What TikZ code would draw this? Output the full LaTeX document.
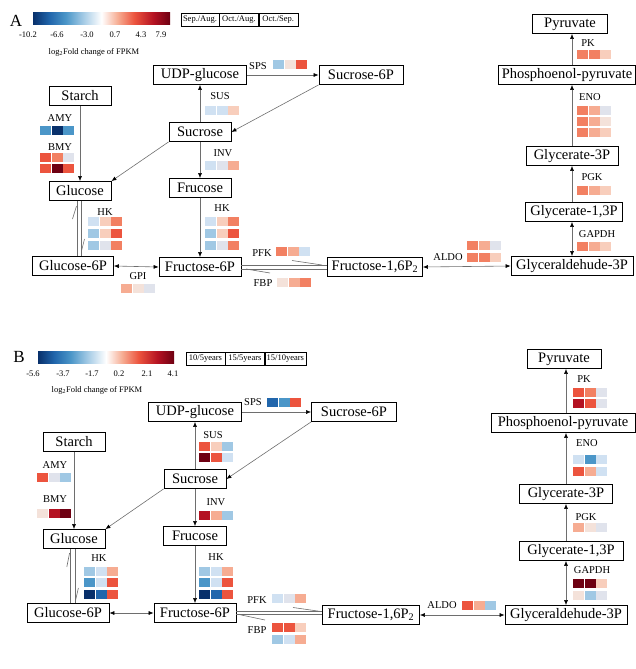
\documentclass[tikz,border=0pt]{standalone}
\usepackage{fontspec}
\setmainfont{Liberation Serif}
\usetikzlibrary{arrows.meta}
\usetikzlibrary{positioning}
\definecolor{hmNavy}{RGB}{8,48,107}
\definecolor{hmDblue}{RGB}{33,102,172}
\definecolor{hmMblue}{RGB}{75,150,200}
\definecolor{hmLblue}{RGB}{160,200,228}
\definecolor{hmPblue}{RGB}{208,225,242}
\definecolor{hmGray}{RGB}{224,227,236}
\definecolor{hmPeachL}{RGB}{244,226,218}
\definecolor{hmPeach}{RGB}{248,206,188}
\definecolor{hmLsalm}{RGB}{246,172,146}
\definecolor{hmSalm}{RGB}{242,128,98}
\definecolor{hmRed}{RGB}{236,84,62}
\definecolor{hmCrim}{RGB}{180,18,34}
\definecolor{hmMaroon}{RGB}{110,0,18}
\definecolor{lnGray}{RGB}{110,110,110}
\pgfdeclarehorizontalshading{rdbu}{100bp}{color(0bp)=(hmNavy); color(25bp)=(hmNavy);
  color(31bp)=(hmDblue); color(37bp)=(hmMblue); color(43bp)=(hmLblue); color(50bp)=(white);
  color(56bp)=(hmLsalm); color(62bp)=(hmRed); color(69bp)=(hmCrim); color(75bp)=(hmMaroon);
  color(100bp)=(hmMaroon)}
% one row of a heat map: x, y, three colours
\newcommand{\hmrow}[5]{%
  \fill[#3] (#1,#2) rectangle +(\cw-0.6,\ch);
  \fill[#4] (#1+\cw,#2) rectangle +(\cw-0.6,\ch);
  \fill[#5] (#1+2*\cw,#2) rectangle +(\cw-0.6,\ch);
}
\tikzset{
  met/.style={draw, line width=0.8pt, minimum height=19, inner xsep=3pt, inner ysep=1pt,
    font=\fontsize{14.5}{16}\selectfont},
  enz/.style={inner sep=0pt, font=\fontsize{10.5}{12}\selectfont},
  arr/.style={draw=lnGray, line width=0.6pt, -{Latex[length=5pt,width=4pt,color=black]}},
  arr2/.style={arr, {Latex[length=5pt,width=4pt,color=black]}-{Latex[length=5pt,width=4pt,color=black]}},
  harp/.style={draw=lnGray, line width=0.6pt},
  hdr/.style={draw, line width=0.4pt, inner sep=1pt, minimum height=13,
    font=\fontsize{8.5}{10}\selectfont},
  tklab/.style={inner sep=0pt, font=\fontsize{8.5}{10}\selectfont},
  panel/.style={inner sep=0pt, font=\fontsize{17}{19}\selectfont}
}
\begin{document}
\begin{tikzpicture}[x=1pt,y=-1pt]
\useasboundingbox (0,0) rectangle (636,669);
\def\cw{11.6}
\def\ch{9.2}

%%%%%%%%%%%% panel A %%%%%%%%%%%%
%legend
\node[panel] (labA) at (16,21) {A};
\shade[shading=rdbu] (33,13) rectangle (170,25);
\foreach \val/\x [count=\i] in {-10.2/28,-6.6/57,-3.0/87,0.7/115,4.3/141,7.9/161}
  \node[tklab] (tkA\i) at (\x,35) {\val};
\node[tklab] (legA) at (94,52) {log\textsubscript{2}Fold change of FPKM};
\node[hdr, minimum width=38] (hdA1) at (200,19.5) {Sep./Aug.};
\node[hdr, minimum width=39, right=0pt of hdA1] (hdA2) {Oct./Aug.};
\node[hdr, minimum width=39, right=0pt of hdA2] (hdA3) {Oct./Sep.};

%metabolites
\node[met, minimum width=93] (udpA) at (200,75) {UDP-glucose};
\node[met, minimum width=84] (suc6pA) at (361,75) {Sucrose-6P};
\node[met, minimum width=62] (starchA) at (80,96) {Starch};
\node[met, minimum width=62] (sucA) at (200,132) {Sucrose};
\node[met, minimum width=62] (glcA) at (80,191) {Glucose};
\node[met, minimum width=62] (frucA) at (200,188) {Frucose};
\node[met, minimum width=81] (g6pA) at (73,266) {Glucose-6P};
\node[met, minimum width=82] (f6pA) at (200,267) {Fructose-6P};
\node[met, minimum width=95] (f16pA) at (375,267) {Fructose-1,6P\textsubscript{2}};
\node[met, minimum width=122] (ga3pA) at (572,266) {Glyceraldehude-3P};
\node[met, minimum width=97] (g13pA) at (574,212) {Glycerate-1,3P};
\node[met, minimum width=92] (g3pA) at (572,156) {Glycerate-3P};
\node[met, minimum width=137] (pepA) at (567,75) {Phosphoenol-pyruvate};
\node[met, minimum width=75] (pyrA) at (570,24) {Pyruvate};

%reactions
\draw[arr] (udpA.east) -- (suc6pA.west);
\draw[arr] (suc6pA.south west) -- (sucA.east);
\draw[arr] (sucA.north) -- (udpA.south);
\draw[arr] (sucA.south) -- (frucA.north);
\draw[arr] (sucA.south west) -- (glcA.north east);
\draw[arr] (starchA.south) -- (glcA.north);
\draw[arr] (frucA.south) -- (f6pA.north);
\draw[arr2] (g6pA.east) -- (f6pA.west);
\draw[arr2] (f16pA.east) -- (ga3pA.west);
\draw[arr2] (ga3pA.north) -- (ga3pA.north |- g13pA.south);
\draw[arr] (ga3pA.north |- g13pA.north) -- (g3pA.south);
\draw[arr] (g3pA.north) -- (g3pA.north |- pepA.south);
\draw[arr] (g3pA.north |- pepA.north) -- (g3pA.north |- pyrA.south);
%glucose <=> glucose-6P
\draw[harp] ([xshift=-3pt]glcA.south) -- ([xshift=-3pt]glcA.south |- g6pA.north);
\draw[harp] ([xshift=1pt]glcA.south) -- ([xshift=1pt]glcA.south |- g6pA.north);
\draw[harp] (76.5,206) -- (72.5,219);
\draw[harp] (81.5,251) -- (84.5,239);
%fructose-6P <=> fructose-1,6P2
\draw[harp] ([yshift=2pt]f6pA.east) -- ([yshift=2pt]f6pA.east -| f16pA.west);
\draw[harp] ([yshift=-2pt]f6pA.east) -- ([yshift=-2pt]f6pA.east -| f16pA.west);
\draw[harp] (292,260.5) -- (322,265);
\draw[harp] (246,269) -- (270,273);

%enzymes
\node[enz] (spsA) at (258,66) {SPS};
\hmrow{273}{60}{hmLblue}{hmPeachL}{hmRed}
\node[enz] (susA) at (220,96) {SUS};
\hmrow{205}{106}{hmPblue}{hmPblue}{hmPeach}
\node[enz] (amyA) at (60,118) {AMY};
\hmrow{40}{126}{hmMblue}{hmNavy}{hmMblue}
\node[enz] (bmyA) at (60,147) {BMY};
\hmrow{40}{153}{hmRed}{hmSalm}{hmGray}
\hmrow{40}{164}{hmRed}{hmMaroon}{hmRed}
\node[enz] (invA) at (223,153) {INV};
\hmrow{205}{161}{hmPblue}{hmGray}{hmLsalm}
\node[enz] (hkgA) at (105,212) {HK};
\hmrow{88}{217}{hmPblue}{hmPeach}{hmSalm}
\hmrow{88}{229}{hmLblue}{hmPeach}{hmRed}
\hmrow{88}{241}{hmLblue}{hmGray}{hmSalm}
\node[enz] (hkfA) at (222,208) {HK};
\hmrow{205}{217}{hmPblue}{hmPeach}{hmSalm}
\hmrow{205}{229}{hmLblue}{hmPeach}{hmRed}
\hmrow{205}{241}{hmLblue}{hmGray}{hmSalm}
\node[enz] (gpiA) at (138,276) {GPI};
\hmrow{121}{284}{hmLsalm}{hmPeachL}{hmGray}
\node[enz] (pfkA) at (262,253) {PFK};
\hmrow{276}{247}{hmSalm}{hmLsalm}{hmPblue}
\node[enz] (fbpA) at (263,283) {FBP};
\hmrow{277}{278}{hmPeachL}{hmLsalm}{hmSalm}
\node[enz] (aldoA) at (448,257) {ALDO};
\hmrow{467}{241}{hmSalm}{hmLsalm}{hmGray}
\hmrow{467}{253}{hmSalm}{hmSalm}{hmPeach}
\node[enz] (gapdhA) at (597,234) {GAPDH};
\hmrow{577}{242}{hmSalm}{hmLsalm}{hmPeach}
\node[enz] (pgkA) at (592,177) {PGK};
\hmrow{577}{186}{hmSalm}{hmLsalm}{hmPeach}
\node[enz] (enoA) at (590,97) {ENO};
\hmrow{577}{105.5}{hmSalm}{hmLsalm}{hmGray}
\hmrow{577}{116.5}{hmSalm}{hmLsalm}{hmPeachL}
\hmrow{577}{127.5}{hmSalm}{hmLsalm}{hmPeach}
\node[enz] (pkA) at (588,43) {PK};
\hmrow{577}{50}{hmSalm}{hmSalm}{hmPeach}

%%%%%%%%%%%% panel B %%%%%%%%%%%%
%legend
\node[panel] (labB) at (19,357) {B};
\shade[shading=rdbu] (38,351) rectangle (174,363);
\foreach \val/\x [count=\i] in {-5.6/33,-3.7/63,-1.7/92,0.2/119,2.1/147,4.1/173}
  \node[tklab] (tkB\i) at (\x,374) {\val};
\node[tklab] (legB) at (97,390) {log\textsubscript{2}Fold change of FPKM};
\node[hdr, minimum width=39] (hdB1) at (205.5,358.5) {10/5years};
\node[hdr, minimum width=39, right=0pt of hdB1] (hdB2) {15/5years};
\node[hdr, minimum width=41, right=0pt of hdB2] (hdB3) {15/10years};

%metabolites
\node[met, minimum width=93] (udpB) at (195,412) {UDP-glucose};
\node[met, minimum width=85] (suc6pB) at (354,412) {Sucrose-6P};
\node[met, minimum width=62] (starchB) at (74,442) {Starch};
\node[met, minimum width=62] (sucB) at (195,479) {Sucrose};
\node[met, minimum width=62] (glcB) at (74,539) {Glucose};
\node[met, minimum width=63] (frucB) at (195,536) {Frucose};
\node[met, minimum width=82] (g6pB) at (68,613) {Glucose-6P};
\node[met, minimum width=82] (f6pB) at (195,613) {Fructose-6P};
\node[met, minimum width=97] (f16pB) at (371,615) {Fructose-1,6P\textsubscript{2}};
\node[met, minimum width=122] (ga3pB) at (566,615) {Glyceraldehude-3P};
\node[met, minimum width=104] (g13pB) at (571,551) {Glycerate-1,3P};
\node[met, minimum width=93] (g3pB) at (566,494) {Glycerate-3P};
\node[met, minimum width=144] (pepB) at (563,423) {Phosphoenol-pyruvate};
\node[met, minimum width=74] (pyrB) at (564,359) {Pyruvate};

%reactions
\draw[arr] (udpB.east) -- (suc6pB.west);
\draw[arr] (suc6pB.south west) -- (sucB.east);
\draw[arr] (sucB.north) -- (udpB.south);
\draw[arr] (sucB.south) -- (frucB.north);
\draw[arr] (sucB.south west) -- (glcB.north east);
\draw[arr] (starchB.south) -- (glcB.north);
\draw[arr] (frucB.south) -- (f6pB.north);
\draw[arr2] (g6pB.east) -- (f6pB.west);
\draw[arr2] (f16pB.east) -- (ga3pB.west);
\draw[arr2] (ga3pB.north) -- (ga3pB.north |- g13pB.south);
\draw[arr] (ga3pB.north |- g13pB.north) -- (g3pB.south);
\draw[arr] (g3pB.north) -- (g3pB.north |- pepB.south);
\draw[arr] (g3pB.north |- pepB.north) -- (g3pB.north |- pyrB.south);
%glucose <=> glucose-6P
\draw[harp] ([xshift=-4pt]glcB.south) -- ([xshift=-4pt]glcB.south |- g6pB.north);
\draw[harp] ([xshift=1pt]glcB.south) -- ([xshift=1pt]glcB.south |- g6pB.north);
\draw[harp] (69.6,553) -- (66.8,567);
\draw[harp] (75.4,601) -- (78.4,588);
%fructose-6P <=> fructose-1,6P2
\draw[harp] ([yshift=1.5pt]f6pB.east) -- ([yshift=1.5pt]f6pB.east -| f16pB.west);
\draw[harp] ([yshift=-1.5pt]f6pB.east) -- ([yshift=-1.5pt]f6pB.east -| f16pB.west);
\draw[harp] (293,607.5) -- (321,611.5);
\draw[harp] (239,614.5) -- (265,620);

%enzymes
\node[enz] (spsB) at (253,402) {SPS};
\hmrow{267}{398}{hmDblue}{hmMblue}{hmRed}
\node[enz] (susB) at (213,435) {SUS};
\hmrow{199}{442}{hmRed}{hmPeach}{hmLblue}
\hmrow{199}{453}{hmMaroon}{hmRed}{hmPblue}
\node[enz] (amyB) at (55,465) {AMY};
\hmrow{37}{473}{hmRed}{hmGray}{hmLblue}
\node[enz] (bmyB) at (55,499) {BMY};
\hmrow{37}{509}{hmPeachL}{hmCrim}{hmMaroon}
\node[enz] (invB) at (216,502) {INV};
\hmrow{199}{511}{hmCrim}{hmLsalm}{hmLblue}
\node[enz] (hkgB) at (99,558) {HK};
\hmrow{84}{567}{hmLblue}{hmPblue}{hmLsalm}
\hmrow{84}{578}{hmMblue}{hmPblue}{hmRed}
\hmrow{84}{590}{hmNavy}{hmDblue}{hmRed}
\node[enz] (hkfB) at (216,557) {HK};
\hmrow{199}{567}{hmLblue}{hmPblue}{hmLsalm}
\hmrow{199}{578}{hmMblue}{hmPblue}{hmRed}
\hmrow{199}{590}{hmNavy}{hmDblue}{hmRed}
\node[enz] (pfkB) at (257,600) {PFK};
\hmrow{272}{594}{hmPblue}{hmGray}{hmLsalm}
\node[enz] (fbpB) at (257,630) {FBP};
\hmrow{272}{623}{hmRed}{hmRed}{hmPeach}
\hmrow{272}{635}{hmLblue}{hmPblue}{hmLsalm}
\node[enz] (aldoB) at (442,605) {ALDO};
\hmrow{462}{601}{hmRed}{hmLsalm}{hmLblue}
\node[enz] (gapdhB) at (592,570) {GAPDH};
\hmrow{573}{579}{hmMaroon}{hmMaroon}{hmPeach}
\hmrow{573}{591}{hmPeachL}{hmLblue}{hmGray}
\node[enz] (pgkB) at (586,517) {PGK};
\hmrow{573}{523}{hmLsalm}{hmPeachL}{hmGray}
\node[enz] (enoB) at (587,443) {ENO};
\hmrow{573}{455}{hmPblue}{hmMblue}{hmPblue}
\hmrow{573}{467}{hmRed}{hmLsalm}{hmPblue}
\node[enz] (pkB) at (584,379) {PK};
\hmrow{573}{388}{hmRed}{hmSalm}{hmGray}
\hmrow{573}{399}{hmCrim}{hmRed}{hmGray}

\end{tikzpicture}
\end{document}
